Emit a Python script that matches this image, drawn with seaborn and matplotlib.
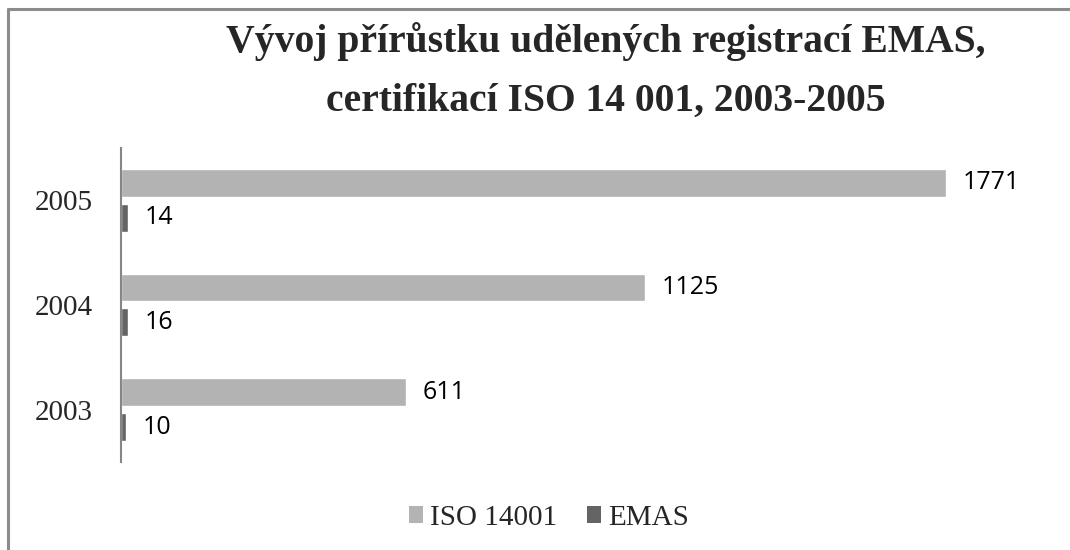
import matplotlib
matplotlib.use("Agg")
import matplotlib.pyplot as plt
import seaborn as sns
import pandas as pd
from matplotlib.lines import Line2D
from matplotlib.patches import Patch

years = ["2005", "2004", "2003"]
iso_values = [1771, 1125, 611]
emas_values = [14, 16, 10]
series_names = ["ISO 14001", "EMAS"]
colors = ["#b3b3b3", "#646464"]
title = "Vývoj přírůstku udělených registrací EMAS,\ncertifikací ISO 14 001, 2003-2005"

df = pd.DataFrame({
    "year": years * 2,
    "value": iso_values + emas_values,
    "series": [series_names[0]] * 3 + [series_names[1]] * 3,
})

sns.set_theme(style="white")
plt.rcParams["font.family"] = ["Liberation Serif", "DejaVu Serif"]

fig = plt.figure(figsize=(10.7, 5.5), dpi=100)
ax = fig.add_axes([0.1131, 0.16, 0.984 - 0.1131, 0.731 - 0.16])

sns.barplot(data=df, y="year", x="value", hue="series", order=years,
            hue_order=series_names, palette=colors, orient="h",
            width=0.667, gap=0.2, ax=ax, legend=False, saturation=1)

ax.set_xlim(0, 2000)
ax.set_xlabel("")
ax.set_ylabel("")
ax.set_xticks([])
for s in ["top", "right", "bottom"]:
    ax.spines[s].set_visible(False)
ax.spines["left"].set_color("#868686")
ax.spines["left"].set_linewidth(1.5)
ax.tick_params(axis="y", length=0, labelsize=21, pad=20)
for lbl in ax.get_yticklabels():
    lbl.set_fontfamily(["Liberation Serif"])

for cont in ax.containers:
    ax.bar_label(cont, labels=[f"{int(v)}" for v in cont.datavalues],
                 padding=12, fontsize=18, fontfamily=["Open Sans", "DejaVu Sans"],
                 color="black")

fig.text(0.566, 0.871, title, ha="center", va="center", fontsize=28.5,
         fontweight="bold", family=["Liberation Serif"], linespacing=1.75)

handles = [Patch(facecolor=c, edgecolor="none") for c in colors]
fig.legend(handles, series_names, loc="center", bbox_to_anchor=(0.513, 0.058),
           ncol=2, frameon=False, handlelength=0.5, handleheight=0.5,
           handletextpad=0.25, columnspacing=1.0,
           prop={"family": ["Liberation Serif"], "size": 21})

# outer chart border
fig.add_artist(Line2D([7.5 / 1070, 7.5 / 1070], [0, 1 - 8.5 / 550],
                      transform=fig.transFigure, color="#8c8c8c", lw=2.2))
fig.add_artist(Line2D([7.5 / 1070, 1], [1 - 8.5 / 550, 1 - 8.5 / 550],
                      transform=fig.transFigure, color="#8c8c8c", lw=2.2))

fig.savefig("out.png", dpi=100)
